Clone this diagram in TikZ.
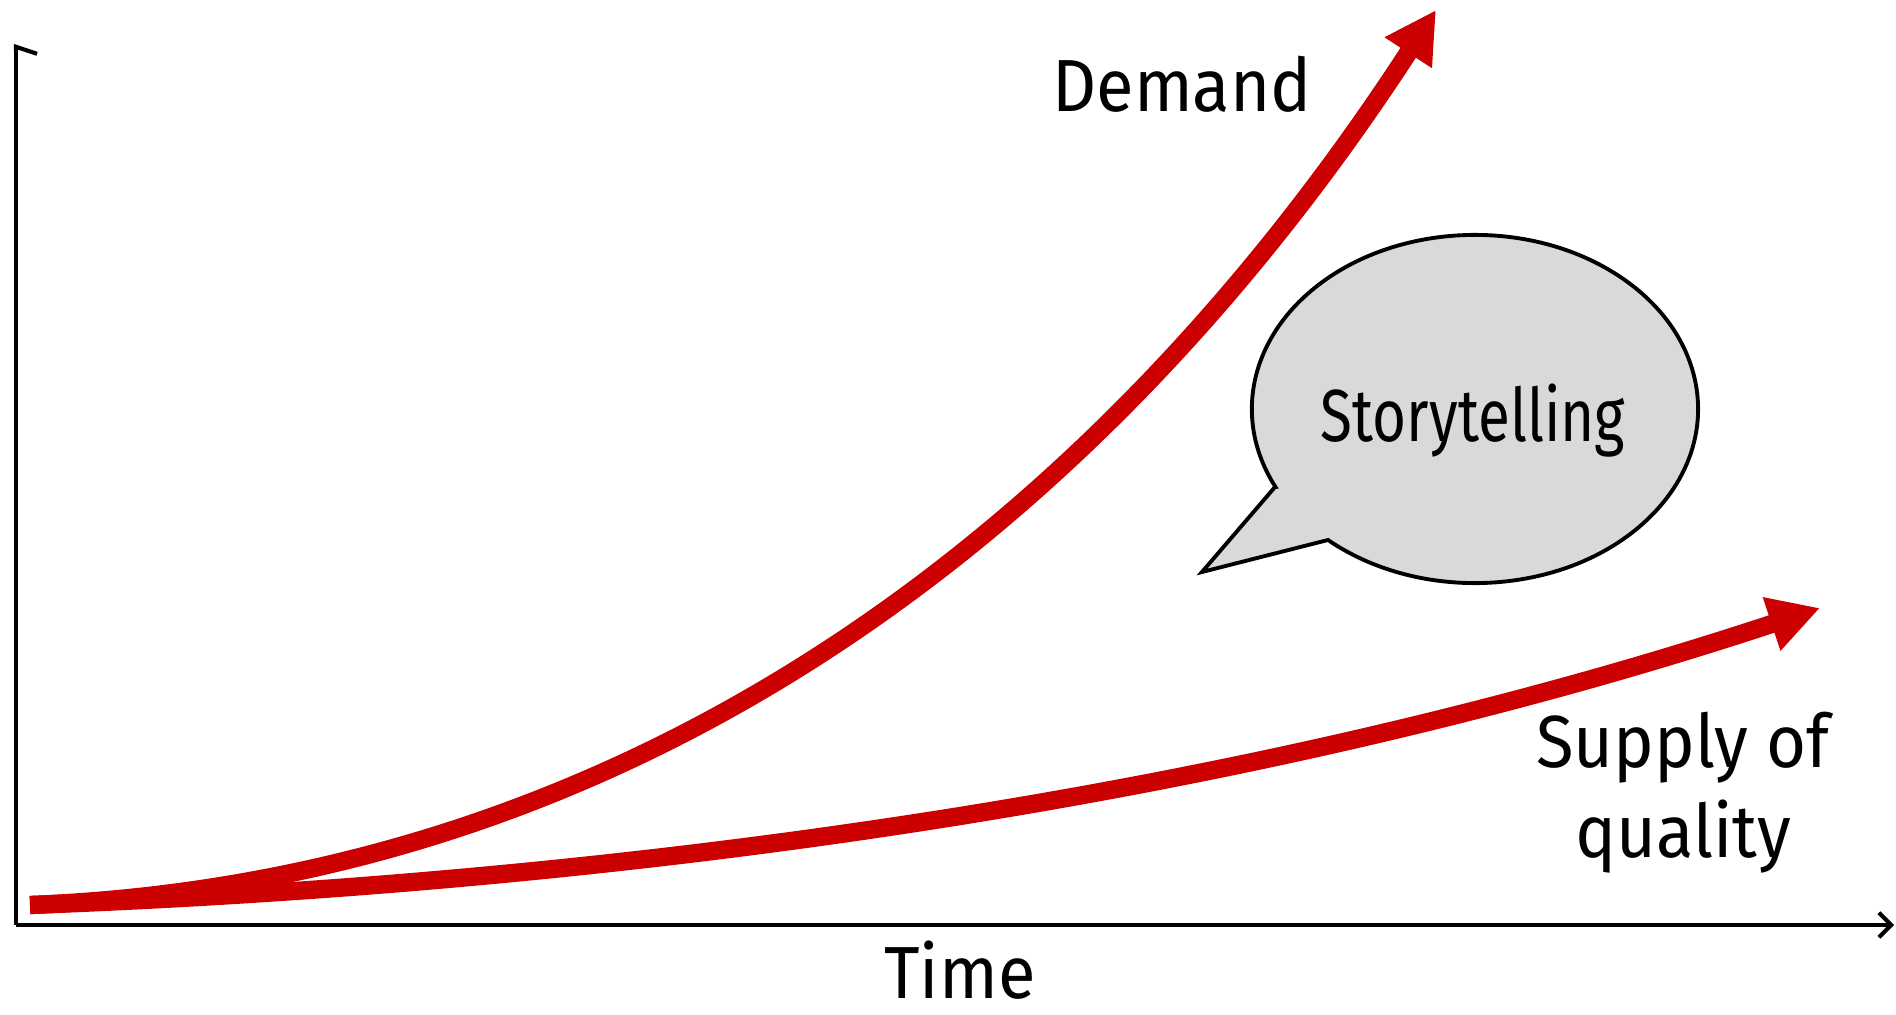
\documentclass[tikz,border=0pt]{standalone}
\usepackage{fontspec}
\newfontfamily\handfont[FakeStretch=0.93]{Fira Sans}
\newfontfamily\narrowhand[FakeStretch=0.79]{Fira Sans}
\usetikzlibrary{arrows.meta}
\definecolor{curvered}{HTML}{CC0000}
\definecolor{bubblegray}{HTML}{D9D9D9}
\begin{document}
\begin{tikzpicture}[x=0.01cm,y=0.01cm,
  axisline/.style={line width=1.15pt,black},
  trend/.style={line width=5.2pt,curvered,-{Triangle[length=14.5pt,width=15pt]}},
  label/.style={font=\handfont\fontsize{21}{25}\selectfont,anchor=base,inner sep=0pt},
  bubble/.style={fill=bubblegray,draw=black,line width=1.1pt,line join=miter}]
  \useasboundingbox (0,0) rectangle (1896,1015);

  % axes
  \coordinate (origin) at (16,90);
  \coordinate (ytop) at (16,971);
  \coordinate (xend) at (1894,90);
  \draw[axisline,-{Straight Barb[right,length=2pt,width=12pt]}] (origin) -- (ytop);
  \draw[axisline,-{Straight Barb[length=3.5pt,width=7pt]}] (origin) -- (xend);

  % growth curves
  \coordinate (start) at (30,110);
  \coordinate (demandtip) at (1436,1005);
  \coordinate (supplytip) at (1820,407);
  \draw[trend] (start) .. controls (700,135) and (1300,235) .. (supplytip);
  \draw[trend] (start) .. controls (650,135) and (1109,502) .. (demandtip);

  % speech bubble
  \coordinate (bubblecenter) at (1475,606);
  \coordinate (tailtip) at (1202,443);
  \draw[bubble] (1275,528) -- (tailtip) -- (1328,475)
    arc[start angle=228.8,end angle=566.6,x radius=2.23cm,y radius=1.74cm] -- cycle;

  % labels
  \node[label,font=\narrowhand\fontsize{21}{25}\selectfont] (story) at (1473,573) {Storytelling};
  \node[label] (demand) at (1182,903) {Demand};
  \node[label] (supply) at (1683,247) {Supply of};
  \node[label] (quality) at (1683,157) {quality};
  \node[label] (time) at (960,16) {Time};
\end{tikzpicture}
\end{document}
